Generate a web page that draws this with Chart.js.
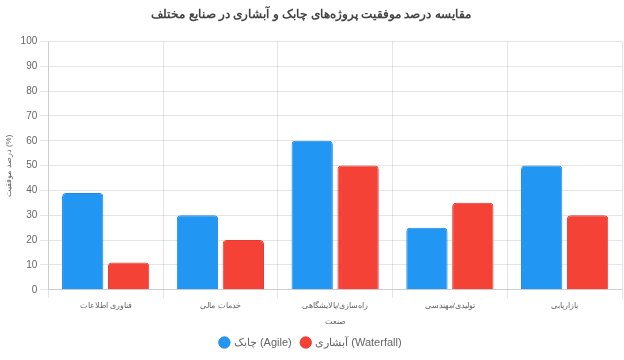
<!DOCTYPE html>
<html lang="fa">
<head>
<meta charset="utf-8">
<script src="https://cdn.jsdelivr.net/npm/chart.js@4"></script>
<style>
  html, body { margin: 0; padding: 0; background: #fff; }
  #wrap { width: 624px; height: 360px; }
</style>
</head>
<body>
<div id="wrap"><canvas id="chart"></canvas></div>
<script>
// Industries (x categories)
const industries = ['فناوری اطلاعات', 'خدمات مالی', 'راه‌سازی/پالایشگاهی', 'تولیدی/مهندسی', 'بازاریابی'];

// Success rates (%)
const agileValues = [39, 30, 60, 25, 50];
const waterfallValues = [11, 20, 50, 35, 30];

// Labels
const chartTitle = 'مقایسه درصد موفقیت پروژه‌های چابک و آبشاری در صنایع مختلف';
const agileLabel = 'چابک (Agile)';
const waterfallLabel = 'آبشاری (Waterfall)';
const xTitle = 'صنعت';
const yTitle = 'درصد موفقیت (%)';

const ctx = document.getElementById('chart').getContext('2d');

new Chart(ctx, {
    type: 'bar',
    data: {
        labels: industries,
        datasets: [{
            label: agileLabel,
            data: agileValues,
            backgroundColor: '#2196F3',
            borderColor: '#1E88E5',
            borderWidth: 1,
            borderRadius: 4,
            barPercentage: 0.9,
            categoryPercentage: 0.8
        }, {
            label: waterfallLabel,
            data: waterfallValues,
            backgroundColor: '#F44336',
            borderColor: '#E53935',
            borderWidth: 1,
            borderRadius: 4,
            barPercentage: 0.9,
            categoryPercentage: 0.8
        }]
    },
    options: {
        responsive: true,
        maintainAspectRatio: false,
        animation: false,
        layout: { padding: { left: 0, right: 2, bottom: 2 } },
        scales: {
            y: {
                beginAtZero: true,
                max: 100,
                ticks: { stepSize: 10, color: '#666', font: { size: 10 } },
                title: { display: true, text: yTitle, font: { size: 8 }, color: '#666' }
            },
            x: {
                ticks: { color: '#666', font: { size: 8 } },
                title: { display: true, text: xTitle, font: { size: 8 }, color: '#666', padding: { top: 4, bottom: 0 } }
            }
        },
        plugins: {
            title: {
                display: true,
                text: chartTitle,
                font: { size: 12, weight: 'bold' },
                color: '#444',
                padding: { top: 7, bottom: 20 }
            },
            legend: {
                position: 'bottom',
                labels: { usePointStyle: true, pointStyle: 'circle', boxWidth: 8, boxHeight: 8, font: { size: 11 }, color: '#666', padding: 10 }
            }
        }
    }
});
</script>
</body>
</html>
